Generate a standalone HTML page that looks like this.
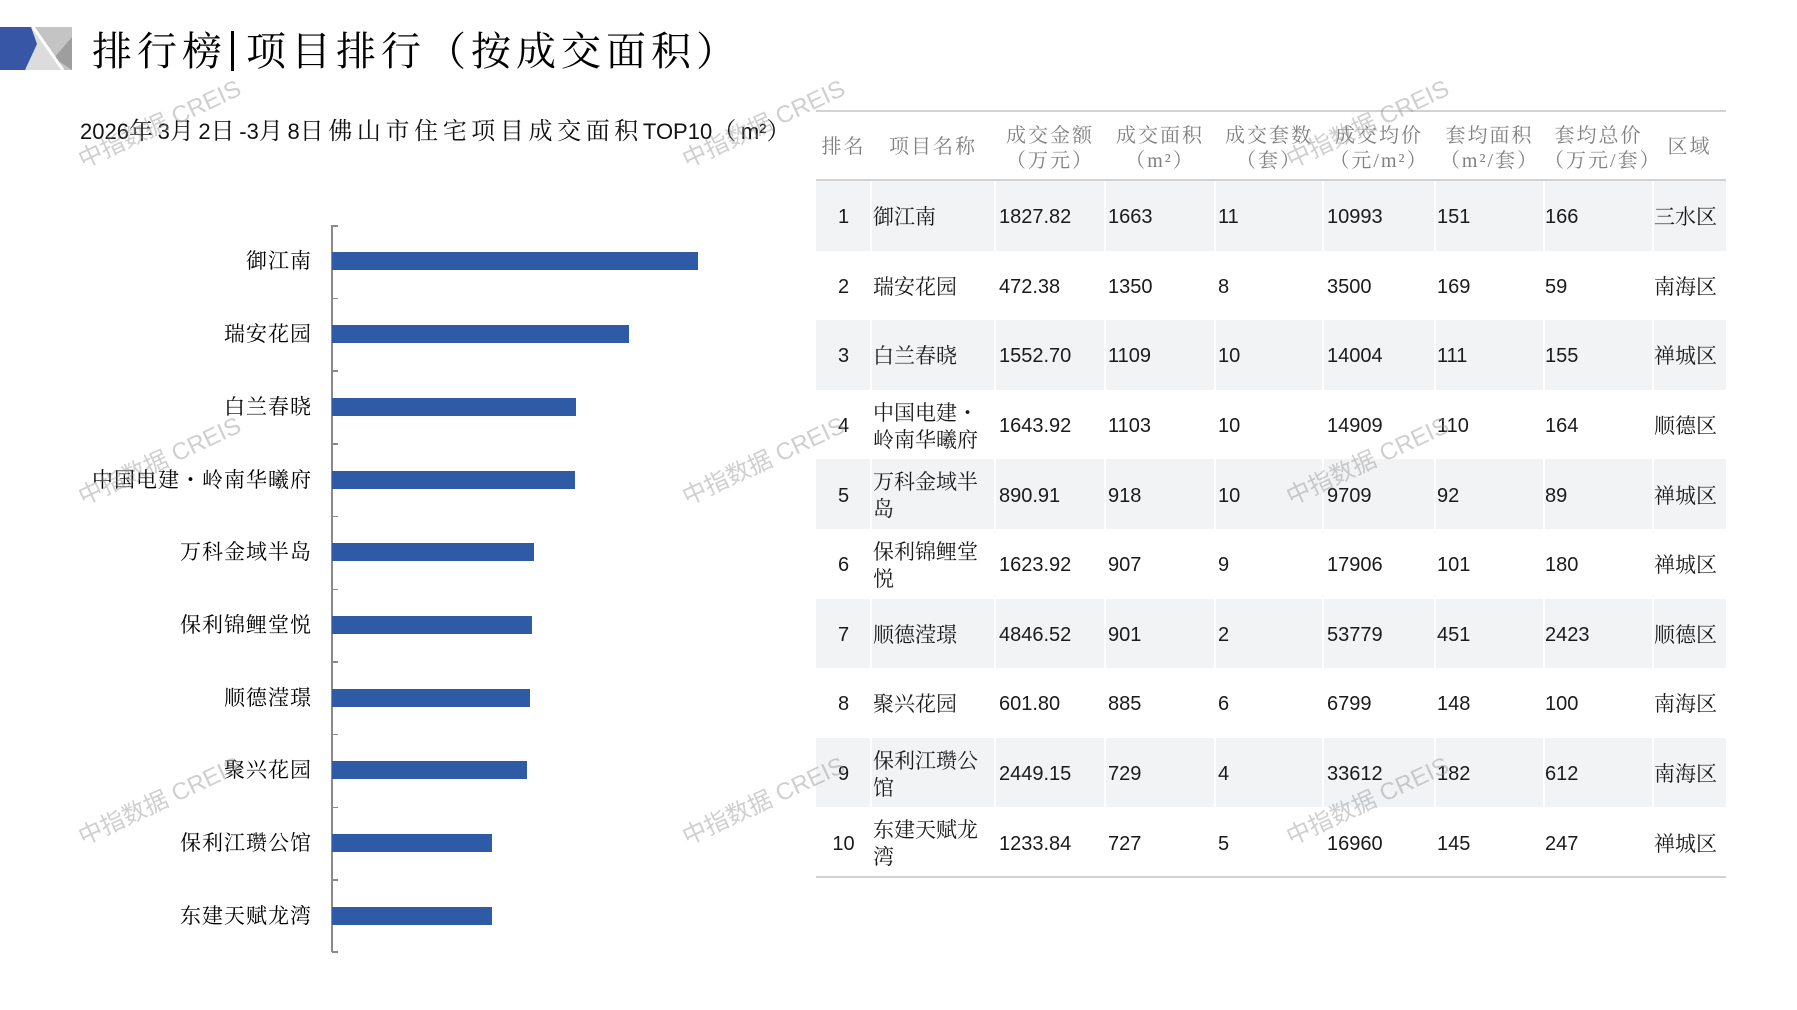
<!DOCTYPE html>
<html><head><meta charset="utf-8">
<style>
*{margin:0;padding:0;box-sizing:border-box}
html,body{width:1797px;height:1010px;background:#fff;overflow:hidden}
body{position:relative;font-family:"Liberation Sans","Noto Serif CJK SC",serif;color:#111}
.abs{position:absolute}
.title{position:absolute;left:92px;top:30px;height:44px;line-height:44px;font-size:40px;letter-spacing:5px;font-family:"Liberation Serif","Noto Serif CJK SC",serif;color:#000;white-space:nowrap}
.title .bar{display:inline-block;width:3px;height:40px;background:#000;vertical-align:-6px;margin:0 12px 0 4px}
.sub{position:absolute;left:80px;top:117px;height:30px;line-height:30px;font-size:24px;letter-spacing:4.6px;font-family:"Liberation Serif","Noto Serif CJK SC",serif;color:#111;white-space:nowrap}
.sub .a{font-family:"Liberation Sans",sans-serif;font-size:22px;letter-spacing:0}
.lab{position:absolute;right:1485px;font-size:21px;letter-spacing:1px;line-height:24px;font-family:"Liberation Serif","Noto Serif CJK SC",serif;color:#000;white-space:nowrap;text-align:right}
.barr{position:absolute;left:332px;height:18px;background:#2f5aa6}
.tick{position:absolute;left:332px;width:6px;height:1.5px;background:#8a8a8a}
.row{position:absolute;left:816px;width:910px;height:69.6px}
.row.g{background:#f2f3f5}
.vd{position:absolute;top:0;width:2px;height:100%;background:#fff}
.c{position:absolute;top:0;height:100%;display:flex;align-items:center;font-size:20px;color:#1a1a1a;white-space:nowrap;padding-top:4px}
.c.cjk{font-family:"Liberation Serif","Noto Serif CJK SC",serif;font-size:21px;line-height:27px}
.h{position:absolute;text-align:center;font-family:"Liberation Serif","Noto Serif CJK SC",serif;font-size:20px;letter-spacing:2px;color:#808080;line-height:25px;white-space:nowrap}
.wm{position:absolute;font-family:"Liberation Sans","Noto Sans CJK SC",sans-serif;font-size:24px;color:rgba(140,140,140,0.42);white-space:nowrap;transform:translate(-50%,-50%) rotate(-25deg);line-height:28px}
</style></head><body>

<!-- logo -->
<svg class="abs" style="left:0;top:27px" width="72" height="43" viewBox="0 0 72 43">
<rect x="18" y="0" width="54" height="43" fill="#dcdcdc"/>
<polygon points="34,0 72,0 72,43 62,43" fill="#c4c4c4"/>
<polygon points="72,10 72,43 54,31" fill="#9e9e9e"/>
<line x1="33" y1="0" x2="63" y2="43" stroke="#fff" stroke-width="3"/>
<polygon points="0,0 31,0 37,17 25,43 0,43" fill="#3757a6"/>
</svg>

<div class="title">排行榜<span class="bar"></span>项目排行（按成交面积）</div>
<div class="sub"><span class="a">2026</span>年<span class="a">3</span>月<span class="a">2</span>日<span class="a">-3</span>月<span class="a">8</span>日佛山市住宅项目成交面积<span class="a">TOP10</span>（<span class="a">m²</span>）</div>

<!-- bar chart -->
<div class="abs" style="left:331px;top:225px;width:1.5px;height:727px;background:#8a8a8a"></div>
<div class="tick" style="top:225px"></div>
<div class="tick" style="top:297.7px"></div>
<div class="tick" style="top:370.4px"></div>
<div class="tick" style="top:443.1px"></div>
<div class="tick" style="top:515.8px"></div>
<div class="tick" style="top:588.5px"></div>
<div class="tick" style="top:661.2px"></div>
<div class="tick" style="top:733.9px"></div>
<div class="tick" style="top:806.6px"></div>
<div class="tick" style="top:879.3px"></div>
<div class="tick" style="top:951px"></div>

<div class="barr" style="top:252.4px;width:365.7px"></div>
<div class="barr" style="top:325.1px;width:296.9px"></div>
<div class="barr" style="top:397.8px;width:243.9px"></div>
<div class="barr" style="top:470.5px;width:242.6px"></div>
<div class="barr" style="top:543.2px;width:201.9px"></div>
<div class="barr" style="top:615.9px;width:199.5px"></div>
<div class="barr" style="top:688.6px;width:198.1px"></div>
<div class="barr" style="top:761.3px;width:194.6px"></div>
<div class="barr" style="top:834.0px;width:160.3px"></div>
<div class="barr" style="top:906.7px;width:159.9px"></div>

<div class="lab" style="top:249.4px">御江南</div>
<div class="lab" style="top:322.1px">瑞安花园</div>
<div class="lab" style="top:394.8px">白兰春晓</div>
<div class="lab" style="top:467.5px">中国电建・岭南华曦府</div>
<div class="lab" style="top:540.2px">万科金域半岛</div>
<div class="lab" style="top:612.9px">保利锦鲤堂悦</div>
<div class="lab" style="top:685.6px">顺德滢璟</div>
<div class="lab" style="top:758.3px">聚兴花园</div>
<div class="lab" style="top:831.0px">保利江瓒公馆</div>
<div class="lab" style="top:903.7px">东建天赋龙湾</div>

<!-- table -->
<div class="abs" style="left:816px;top:110px;width:910px;height:2px;background:#d2d2d2"></div>
<div class="abs" style="left:816px;top:179px;width:910px;height:2px;background:#d2d2d2"></div>

<div class="h" style="left:816px;width:55px;top:135px">排名</div>
<div class="h" style="left:871px;width:124px;top:135px">项目名称</div>
<div class="h" style="left:995px;width:110px;top:124px">成交金额<br>（万元）</div>
<div class="h" style="left:1105px;width:110px;top:124px">成交面积<br>（m²）</div>
<div class="h" style="left:1215px;width:108px;top:124px">成交套数<br>（套）</div>
<div class="h" style="left:1323px;width:112px;top:124px">成交均价<br>（元/m²）</div>
<div class="h" style="left:1435px;width:109px;top:124px">套均面积<br>（m²/套）</div>
<div class="h" style="left:1544px;width:109px;top:124px">套均总价<br>（万元/套）</div>
<div class="h" style="left:1653px;width:73px;top:135px">区域</div>

<!-- rows -->
<div class="row g" style="top:181px">
<div class="vd" style="left:54px"></div><div class="vd" style="left:178px"></div><div class="vd" style="left:288px"></div><div class="vd" style="left:398px"></div><div class="vd" style="left:506px"></div><div class="vd" style="left:618px"></div><div class="vd" style="left:727px"></div><div class="vd" style="left:836px"></div>
<div class="c" style="left:0;width:55px;justify-content:center">1</div>
<div class="c cjk" style="left:57px">御江南</div>
<div class="c" style="left:183px">1827.82</div>
<div class="c" style="left:292px">1663</div>
<div class="c" style="left:402px">11</div>
<div class="c" style="left:511px">10993</div>
<div class="c" style="left:621px">151</div>
<div class="c" style="left:729px">166</div>
<div class="c cjk" style="left:838px">三水区</div>
</div>

<div class="row" style="top:250.6px">
<div class="c" style="left:0;width:55px;justify-content:center">2</div>
<div class="c cjk" style="left:57px">瑞安花园</div>
<div class="c" style="left:183px">472.38</div>
<div class="c" style="left:292px">1350</div>
<div class="c" style="left:402px">8</div>
<div class="c" style="left:511px">3500</div>
<div class="c" style="left:621px">169</div>
<div class="c" style="left:729px">59</div>
<div class="c cjk" style="left:838px">南海区</div>
</div>

<div class="row g" style="top:320.2px">
<div class="vd" style="left:54px"></div><div class="vd" style="left:178px"></div><div class="vd" style="left:288px"></div><div class="vd" style="left:398px"></div><div class="vd" style="left:506px"></div><div class="vd" style="left:618px"></div><div class="vd" style="left:727px"></div><div class="vd" style="left:836px"></div>
<div class="c" style="left:0;width:55px;justify-content:center">3</div>
<div class="c cjk" style="left:57px">白兰春晓</div>
<div class="c" style="left:183px">1552.70</div>
<div class="c" style="left:292px">1109</div>
<div class="c" style="left:402px">10</div>
<div class="c" style="left:511px">14004</div>
<div class="c" style="left:621px">111</div>
<div class="c" style="left:729px">155</div>
<div class="c cjk" style="left:838px">禅城区</div>
</div>

<div class="row" style="top:389.8px">
<div class="c" style="left:0;width:55px;justify-content:center">4</div>
<div class="c cjk" style="left:57px">中国电建・<br>岭南华曦府</div>
<div class="c" style="left:183px">1643.92</div>
<div class="c" style="left:292px">1103</div>
<div class="c" style="left:402px">10</div>
<div class="c" style="left:511px">14909</div>
<div class="c" style="left:621px">110</div>
<div class="c" style="left:729px">164</div>
<div class="c cjk" style="left:838px">顺德区</div>
</div>

<div class="row g" style="top:459.4px">
<div class="vd" style="left:54px"></div><div class="vd" style="left:178px"></div><div class="vd" style="left:288px"></div><div class="vd" style="left:398px"></div><div class="vd" style="left:506px"></div><div class="vd" style="left:618px"></div><div class="vd" style="left:727px"></div><div class="vd" style="left:836px"></div>
<div class="c" style="left:0;width:55px;justify-content:center">5</div>
<div class="c cjk" style="left:57px">万科金域半<br>岛</div>
<div class="c" style="left:183px">890.91</div>
<div class="c" style="left:292px">918</div>
<div class="c" style="left:402px">10</div>
<div class="c" style="left:511px">9709</div>
<div class="c" style="left:621px">92</div>
<div class="c" style="left:729px">89</div>
<div class="c cjk" style="left:838px">禅城区</div>
</div>

<div class="row" style="top:529px">
<div class="c" style="left:0;width:55px;justify-content:center">6</div>
<div class="c cjk" style="left:57px">保利锦鲤堂<br>悦</div>
<div class="c" style="left:183px">1623.92</div>
<div class="c" style="left:292px">907</div>
<div class="c" style="left:402px">9</div>
<div class="c" style="left:511px">17906</div>
<div class="c" style="left:621px">101</div>
<div class="c" style="left:729px">180</div>
<div class="c cjk" style="left:838px">禅城区</div>
</div>

<div class="row g" style="top:598.6px">
<div class="vd" style="left:54px"></div><div class="vd" style="left:178px"></div><div class="vd" style="left:288px"></div><div class="vd" style="left:398px"></div><div class="vd" style="left:506px"></div><div class="vd" style="left:618px"></div><div class="vd" style="left:727px"></div><div class="vd" style="left:836px"></div>
<div class="c" style="left:0;width:55px;justify-content:center">7</div>
<div class="c cjk" style="left:57px">顺德滢璟</div>
<div class="c" style="left:183px">4846.52</div>
<div class="c" style="left:292px">901</div>
<div class="c" style="left:402px">2</div>
<div class="c" style="left:511px">53779</div>
<div class="c" style="left:621px">451</div>
<div class="c" style="left:729px">2423</div>
<div class="c cjk" style="left:838px">顺德区</div>
</div>

<div class="row" style="top:668.2px">
<div class="c" style="left:0;width:55px;justify-content:center">8</div>
<div class="c cjk" style="left:57px">聚兴花园</div>
<div class="c" style="left:183px">601.80</div>
<div class="c" style="left:292px">885</div>
<div class="c" style="left:402px">6</div>
<div class="c" style="left:511px">6799</div>
<div class="c" style="left:621px">148</div>
<div class="c" style="left:729px">100</div>
<div class="c cjk" style="left:838px">南海区</div>
</div>

<div class="row g" style="top:737.8px">
<div class="vd" style="left:54px"></div><div class="vd" style="left:178px"></div><div class="vd" style="left:288px"></div><div class="vd" style="left:398px"></div><div class="vd" style="left:506px"></div><div class="vd" style="left:618px"></div><div class="vd" style="left:727px"></div><div class="vd" style="left:836px"></div>
<div class="c" style="left:0;width:55px;justify-content:center">9</div>
<div class="c cjk" style="left:57px">保利江瓒公<br>馆</div>
<div class="c" style="left:183px">2449.15</div>
<div class="c" style="left:292px">729</div>
<div class="c" style="left:402px">4</div>
<div class="c" style="left:511px">33612</div>
<div class="c" style="left:621px">182</div>
<div class="c" style="left:729px">612</div>
<div class="c cjk" style="left:838px">南海区</div>
</div>

<div class="row" style="top:807.4px">
<div class="c" style="left:0;width:55px;justify-content:center">10</div>
<div class="c cjk" style="left:57px">东建天赋龙<br>湾</div>
<div class="c" style="left:183px">1233.84</div>
<div class="c" style="left:292px">727</div>
<div class="c" style="left:402px">5</div>
<div class="c" style="left:511px">16960</div>
<div class="c" style="left:621px">145</div>
<div class="c" style="left:729px">247</div>
<div class="c cjk" style="left:838px">禅城区</div>
</div>

<div class="abs" style="left:816px;top:876px;width:910px;height:2px;background:#d2d2d2"></div>

<!-- watermarks -->
<div class="wm" style="left:160px;top:125px">中指数据 CREIS</div>
<div class="wm" style="left:764px;top:125px">中指数据 CREIS</div>
<div class="wm" style="left:1368px;top:125px">中指数据 CREIS</div>
<div class="wm" style="left:160px;top:462px">中指数据 CREIS</div>
<div class="wm" style="left:764px;top:462px">中指数据 CREIS</div>
<div class="wm" style="left:1368px;top:462px">中指数据 CREIS</div>
<div class="wm" style="left:160px;top:802px">中指数据 CREIS</div>
<div class="wm" style="left:764px;top:802px">中指数据 CREIS</div>
<div class="wm" style="left:1368px;top:802px">中指数据 CREIS</div>

</body></html>
